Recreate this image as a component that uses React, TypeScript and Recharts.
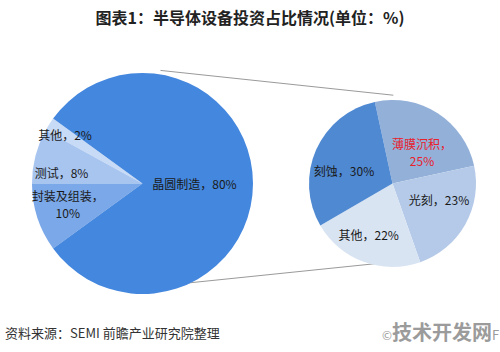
import React from "react";
import { PieChart, Pie, Cell, Customized } from "recharts";

// 左侧大饼图：设备投资占比
const mainNames = ["其他", "测试", "封装及组装", "晶圆制造"];
const mainValues = [2, 8, 10, 80];
// 右侧小饼图：晶圆制造设备细分
const subNames = ["薄膜沉积", "光刻", "其他", "刻蚀"];
const subValues = [25, 23, 22, 30];

const mainData = mainNames.map((name, i) => ({ name, value: mainValues[i] }));
const subData = subNames.map((name, i) => ({ name, value: subValues[i] }));

const mainColors = ["#c8dbf6", "#a8c5f0", "#7ba8e8", "#4487de"];
const subColors = ["#93b0d9", "#b5cae8", "#d9e4f3", "#4f89d2"];

// 饼图几何
const W = 500;
const H = 352;
const MAIN = { cx: 137.5, cy: 178.5, r: 110.5 };
const SUB = { cx: 387.5, cy: 178.5, r: 83.5 };

// 标签位置（半径比例 + 角度偏移）
const mainLabelPos: Record<string, { r: number; a: number; lines?: string[] }> = {
  其他: { r: 0.83, a: 0 },
  测试: { r: 0.74, a: 6.5 },
  封装及组装: { r: 0.7, a: -3, lines: ["封装及组装，", "10%"] },
  晶圆制造: { r: 0.47, a: 0 },
};
const subLabelPos: Record<string, { r: number; a: number; lines?: string[]; color?: string }> = {
  薄膜沉积: { r: 0.52, a: -10, lines: ["薄膜沉积，", "25%"], color: "#e8212b" },
  光刻: { r: 0.59, a: 10 },
  其他: { r: 0.67, a: -5 },
  刻蚀: { r: 0.6, a: 9 },
};

const RAD = Math.PI / 180;
const labelFont = "'Noto Sans CJK SC', 'Noto Sans', sans-serif";

const makeLabel =
  (pos: Record<string, { r: number; a: number; lines?: string[]; color?: string }>) =>
  (props: any) => {
    const { cx, cy, outerRadius, midAngle, name, value } = props;
    const p = pos[name] || { r: 0.6, a: 0 };
    const ang = (midAngle + p.a) * RAD;
    const x = cx + outerRadius * p.r * Math.cos(ang);
    const y = cy - outerRadius * p.r * Math.sin(ang);
    const lines = p.lines || [`${name}，${value}%`];
    const lh = 17;
    const y0 = y - ((lines.length - 1) * lh) / 2;
    return (
      <g>
        {lines.map((t, i) => (
          <text
            key={i}
            x={x}
            y={y0 + i * lh}
            textAnchor="middle"
            dominantBaseline="central"
            fontSize={12}
            fontFamily={labelFont}
            fill={p.color || "#1a1a1a"}
          >
            {t}
          </text>
        ))}
      </g>
    );
  };

// 连接线：大饼图上下边缘 -> 小饼图上下边缘
const Connectors = () => {
  const pt = (c: { cx: number; cy: number; r: number }, deg: number) => [
    c.cx + c.r * Math.cos(deg * RAD),
    c.cy - c.r * Math.sin(deg * RAD),
  ];
  const [x1, y1] = pt(MAIN, 78);
  const [x2, y2] = pt(SUB, 86);
  const [x3, y3] = pt(MAIN, -75);
  const [x4, y4] = pt(SUB, -83.5);
  return (
    <g>
      <line x1={x1} y1={y1} x2={x2} y2={y2} stroke="#9a9a9a" strokeWidth={1} />
      <line x1={x3} y1={y3} x2={x4} y2={y4} stroke="#9a9a9a" strokeWidth={1} />
    </g>
  );
};

export default function App() {
  return (
    <div
      style={{
        position: "absolute",
        left: 0,
        top: 0,
        width: W,
        height: H,
        background: "#fff",
        overflow: "hidden",
      }}
    >
      <div
        style={{
          position: "absolute",
          top: 6,
          left: 0,
          width: W,
          textAlign: "center",
          fontSize: 16,
          fontWeight: "bold",
          fontFamily: labelFont,
          color: "#222",
          lineHeight: "22px",
        }}
      >
        图表1：半导体设备投资占比情况(单位：%)
      </div>

      <PieChart width={W} height={H} style={{ position: "absolute", left: 0, top: 0 }}>
        <Customized component={Connectors} />
        <Pie
          data={mainData}
          dataKey="value"
          nameKey="name"
          cx={MAIN.cx}
          cy={MAIN.cy}
          outerRadius={MAIN.r}
          startAngle={144}
          endAngle={504}
          stroke="none"
          labelLine={false}
          label={makeLabel(mainLabelPos)}
          isAnimationActive={false}
        >
          {mainData.map((d, i) => (
            <Cell key={d.name} fill={mainColors[i]} />
          ))}
        </Pie>
        <Pie
          data={subData}
          dataKey="value"
          nameKey="name"
          cx={SUB.cx}
          cy={SUB.cy}
          outerRadius={SUB.r}
          startAngle={102.2}
          endAngle={-257.8}
          stroke="none"
          labelLine={false}
          label={makeLabel(subLabelPos)}
          isAnimationActive={false}
        >
          {subData.map((d, i) => (
            <Cell key={d.name} fill={subColors[i]} />
          ))}
        </Pie>
      </PieChart>

      <div
        style={{
          position: "absolute",
          left: 5,
          top: 323,
          fontSize: 13,
          fontFamily: labelFont,
          color: "#333",
          lineHeight: "20px",
          whiteSpace: "nowrap",
        }}
      >
        资料来源：SEMI 前瞻产业研究院整理
      </div>
      <div
        style={{
          position: "absolute",
          left: 382,
          top: 320,
          fontFamily: labelFont,
          color: "#9b9b9b",
          lineHeight: "24px",
          whiteSpace: "nowrap",
        }}
      >
        <span style={{ fontSize: 12 }}>©</span>
        <span style={{ fontSize: 20, fontWeight: "bold" }}>技术开发网</span>
        <span style={{ fontSize: 13 }}>F</span>
      </div>
    </div>
  );
}
